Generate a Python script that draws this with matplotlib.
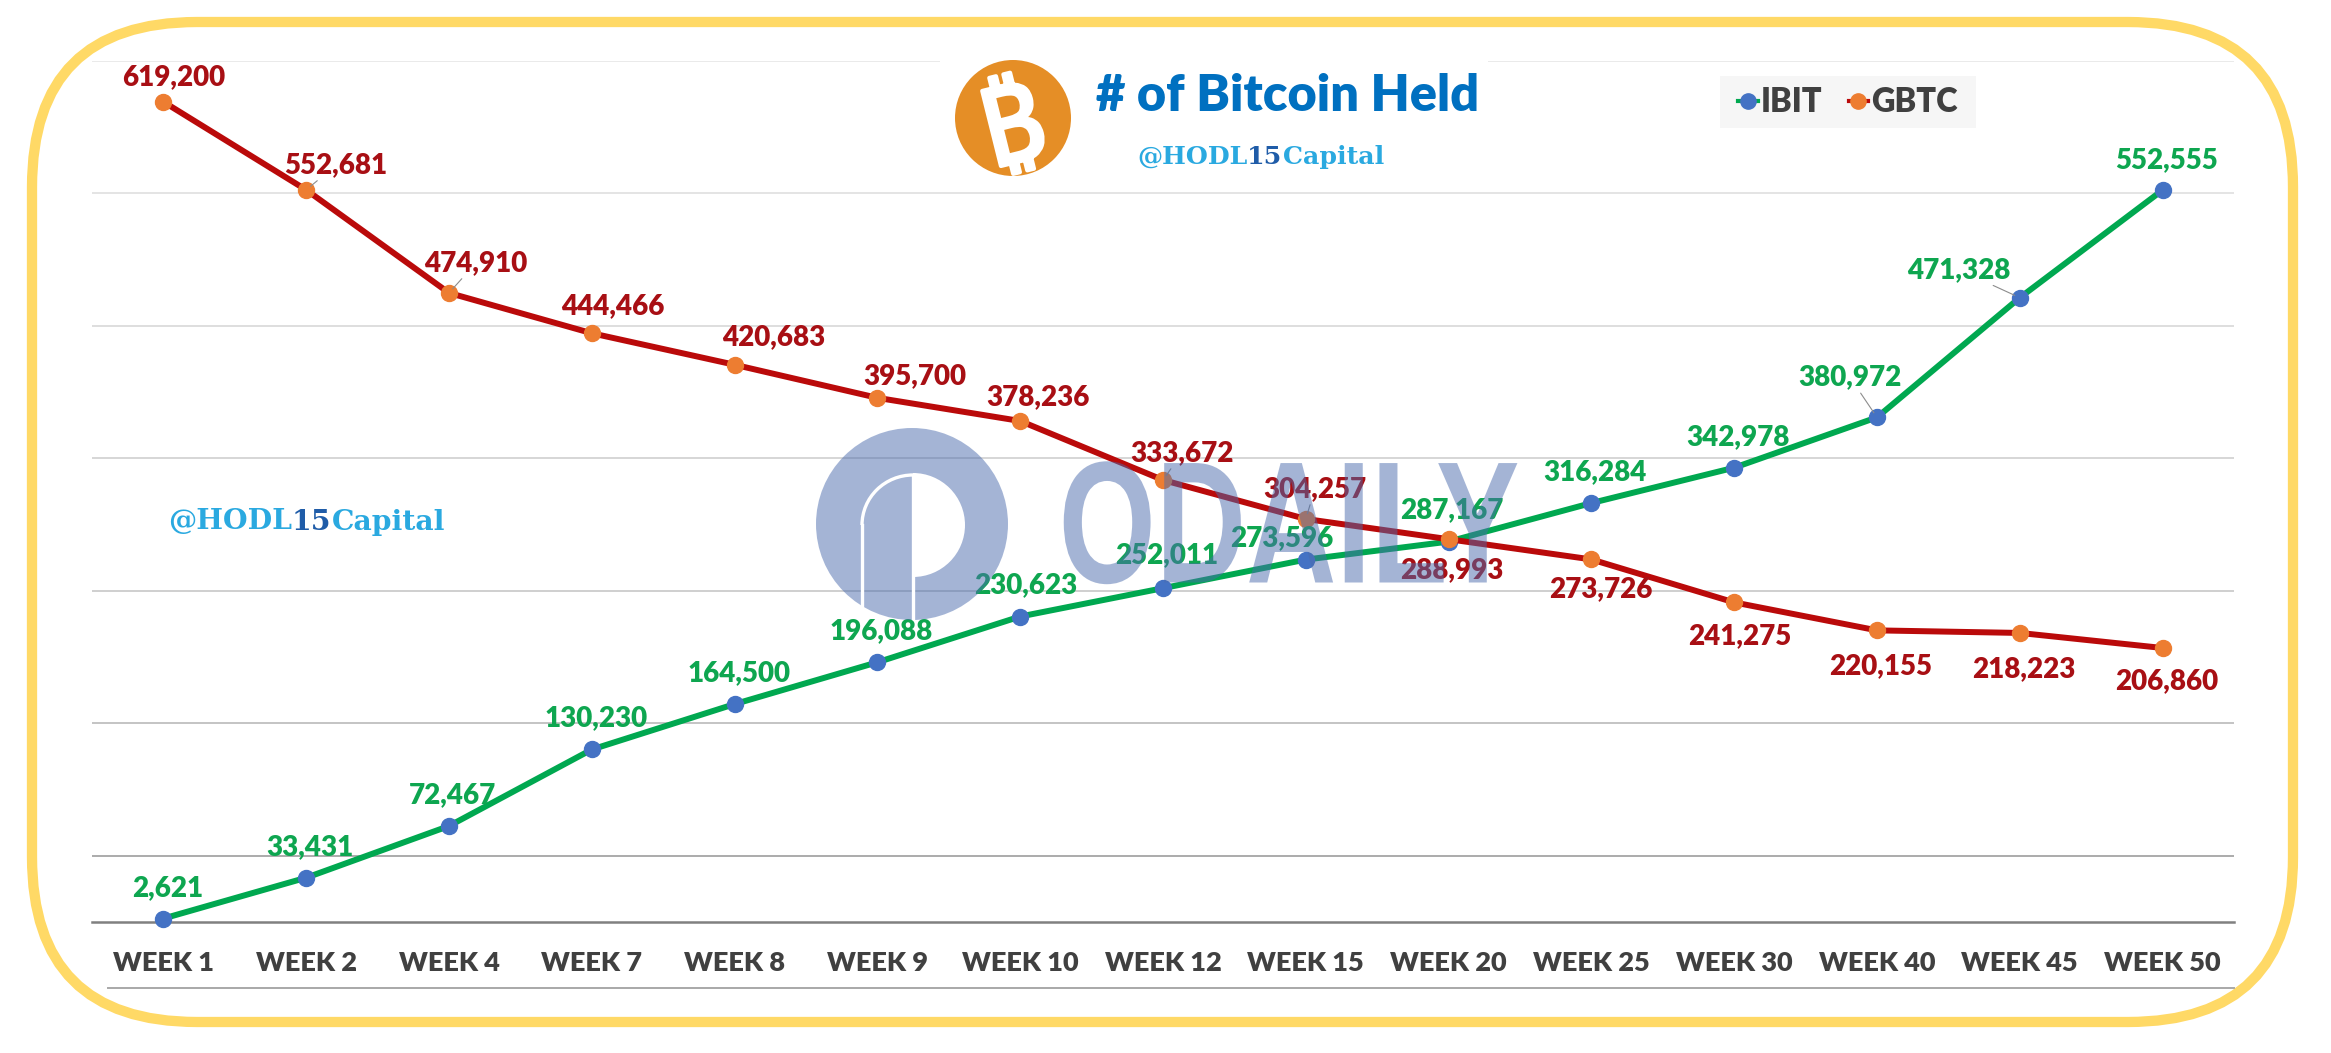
import matplotlib
matplotlib.use("Agg")
import matplotlib.pyplot as plt
from matplotlib.patches import Circle, FancyBboxPatch, Rectangle, Wedge, Arc
from matplotlib.patheffects import AbstractPathEffect, withStroke
from matplotlib.transforms import Affine2D

weeks = ['WEEK 1', 'WEEK 2', 'WEEK 4', 'WEEK 7', 'WEEK 8', 'WEEK 9', 'WEEK 10', 'WEEK 12',
         'WEEK 15', 'WEEK 20', 'WEEK 25', 'WEEK 30', 'WEEK 40', 'WEEK 45', 'WEEK 50']
ibit = [2621, 33431, 72467, 130230, 164500, 196088, 230623, 252011,
        273596, 287167, 316284, 342978, 380972, 471328, 552555]
gbtc = [619200, 552681, 474910, 444466, 420683, 395700, 378236, 333672,
        304257, 288993, 273726, 241275, 220155, 218223, 206860]
grid_values = [50000, 150000, 250000, 350000, 450000, 550000, 650000]

# label placement, pixels away from the point
ibit_off = [(4, 30), (4, 31), (4, 31), (4, 31), (4, 31), (4, 31), (6, 31), (4, 33),
            (-24, 21), (3, 31), (4, 31), (4, 31), (-27, 40), (-61, 28), (4, 30)]
gbtc_off = [(10, 25), (30, 25), (27, 30), (21, 27), (39, 28), (37, 22), (18, 24), (19, 27),
            (9, 30), (3, -31), (9, -30), (6, -34), (4, -36), (4, -36), (4, -33)]
ibit_leaders = [12, 13]
gbtc_leaders = [1, 2, 7, 8]

W, H = 2331, 1053
plt.rcParams['font.family'] = ['Lato', 'DejaVu Sans']
plt.rcParams['font.weight'] = 'bold'


class Squeeze(AbstractPathEffect):
    # narrows text sideways about a fixed x (no condensed font installed)
    def __init__(self, cx, sx):
        super().__init__()
        self.cx, self.sx = cx, sx

    def draw_path(self, renderer, gc, tpath, affine, rgbFace=None):
        t = affine + Affine2D().translate(-self.cx, 0).scale(self.sx, 1).translate(self.cx, 0)
        renderer.draw_path(gc, tpath, t, rgbFace)


fig = plt.figure(figsize=(W / 100, H / 100), dpi=100, facecolor='white')
ax = fig.add_axes([92 / W, 1 - 922 / H, (2234 - 92) / W, (922 - 61) / H], zorder=2)
ax.set_xlim(-0.5, 14.5)
ax.set_ylim(0, 650000)
ax.patch.set_visible(False)

x = list(range(len(weeks)))
ax.plot(x, ibit, color='#00A850', lw=4.3, marker='o', ms=11.5, mfc='#4472C4', mec='#4472C4',
        clip_on=False, zorder=4, label='IBIT')
ax.plot(x, gbtc, color='#BA0A0A', lw=4.3, marker='o', ms=11.5, mfc='#ED7D31', mec='#ED7D31',
        clip_on=False, zorder=5, label='GBTC')


def put_labels(values, offsets, leaders, color):
    for i, v in enumerate(values):
        arrow = None
        if i in leaders:
            arrow = dict(arrowstyle='-', color='#8C8C8C', lw=0.8, shrinkA=0, shrinkB=4)
        ax.annotate(format(v, ','), (i, v), xytext=offsets[i], textcoords='offset pixels',
                    ha='center', va='center', fontsize=20, fontweight=800, color=color,
                    arrowprops=arrow, zorder=6)


put_labels(ibit, ibit_off, ibit_leaders, '#0EA650')
put_labels(gbtc, gbtc_off, gbtc_leaders, '#A80F14')

ax.set_xticks(x)
ax.set_xticklabels(weeks, fontsize=19.5, fontweight=800, color='#404040')
ax.set_yticks(grid_values)
ax.set_yticklabels([])
ax.tick_params(axis='both', length=0)
ax.tick_params(axis='x', pad=21)
ax.grid(axis='y', lw=1.4)
ax.set_axisbelow(True)
grid_colors = ['#ABABAB', '#C4C4C4', '#CFCFCF', '#D6D6D6', '#DEDEDE', '#E4E4E4', '#EAEAEA']
for line, c in zip(ax.yaxis.get_gridlines(), grid_colors):
    line.set_color(c)
for s in ['top', 'left', 'right']:
    ax.spines[s].set_visible(False)
ax.spines['bottom'].set_color('#808080')
ax.spines['bottom'].set_linewidth(1.8)

# legend box sits behind the axes, the legend itself has no frame
fig.add_artist(Rectangle((1720 / W, 1 - 128 / H), 256 / W, 52 / H, transform=fig.transFigure,
                         fc='#F6F6F6', ec='none', zorder=1))
leg = ax.legend(loc='center', bbox_to_anchor=(1848 / W, 1 - 102 / H), bbox_transform=fig.transFigure,
                ncol=2, frameon=False, handlelength=0.6, handletextpad=0.1, columnspacing=0.8,
                prop={'family': 'Lato', 'weight': 800, 'size': 23.5}, labelcolor='#404040',
                numpoints=1, borderpad=0.3)
for h in leg.legend_handles:
    h.set_linewidth(3)
    h.set_markersize(11)

# overlay in picture pixels: frame, logos, watermarks
ov = fig.add_axes([0, 0, 1, 1], zorder=3)
ov.set_xlim(0, W)
ov.set_ylim(H, 0)
ov.axis('off')
ov.patch.set_visible(False)

ov.plot([108, 2234], [988, 988], color='#A8A8A8', lw=1.4)
ov.add_patch(FancyBboxPatch((32, 22), 2261, 1000, boxstyle='round,pad=0,rounding_size=165',
                            fc='none', ec='#FFD966', lw=7.4))

# title block
ov.add_patch(Rectangle((940, 50), 548, 130, fc='white', ec='none'))
ov.add_patch(Circle((1013, 118), 58, fc='#E58E26', ec='none'))
ov.text(1014, 115, '\u20bf', family=['Noto Sans', 'Inter', 'Roboto', 'Open Sans', 'Liberation Sans', 'DejaVu Sans'],
        fontweight='bold', fontsize=78, color='white', rotation=14, ha='center', va='center_baseline',
        path_effects=[withStroke(linewidth=3, foreground='white')])
ov.text(1096, 96, '# of Bitcoin Held', fontsize=36.4, fontweight=800, color='#0070C0',
        ha='left', va='center')


def handle_text(x0, y, size):
    # @HODL + dark 15 + Capital
    for part, c in [('@HODL', '#2AA9E0'), ('15', '#1F5CA8'), ('Capital', '#2AA9E0')]:
        t = ov.text(x0, y, part, family='DejaVu Serif', fontweight='bold', fontsize=size, color=c,
                    ha='left', va='center')
        bb = t.get_window_extent(fig.canvas.get_renderer())
        x0 = x0 + bb.width


handle_text(1137, 157, 18.2)
handle_text(168, 522, 20.3)

# ODAILY watermark
wm = '#4A6BAD'
ov.add_patch(Circle((912, 524), 96, fc=wm, ec='none', alpha=0.5))
ov.add_patch(Wedge((913, 525), 52, -90, 90, fc='white', ec='none'))
ov.plot([913, 913], [475, 618], color='white', lw=2.4)
ov.plot([862, 862], [525, 612], color='white', lw=2.4)
ov.add_patch(Arc((913, 525), 102, 100, theta1=180, theta2=270, ec='white', lw=2.4))
ov.text(1289, 537, 'ODAILY', family='Liberation Sans', fontweight='bold', fontsize=125, color=wm, alpha=0.5,
        ha='center', va='center', path_effects=[Squeeze(1289, 0.72)])

fig.savefig('out.png', dpi=100, facecolor='white')
